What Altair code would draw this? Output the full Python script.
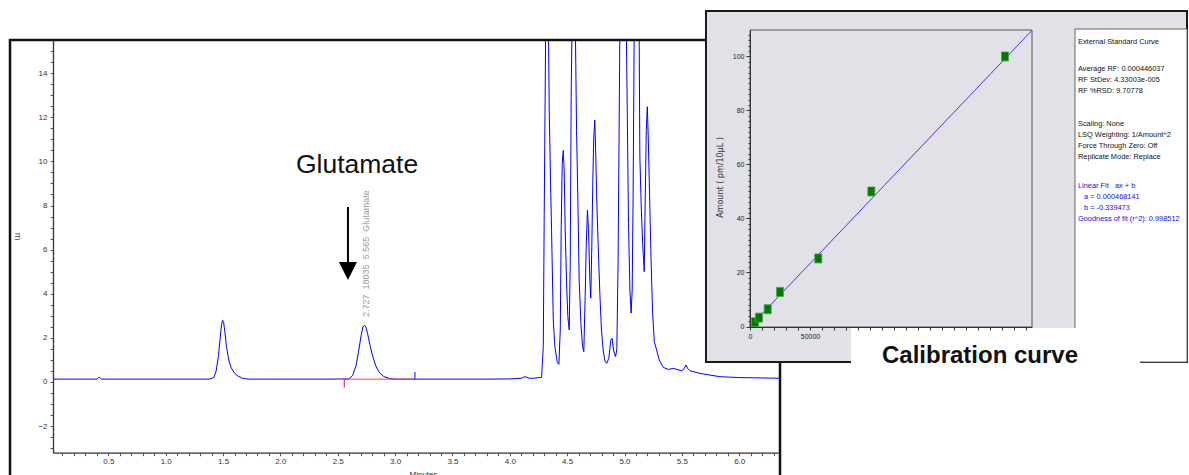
import altair as alt
import pandas as pd

W, H = 1189, 475

# ---------------- Chromatogram ----------------
trace_time = [
    0.02, 0.30, 0.40, 0.415, 0.425, 0.44, 0.60, 1.00,
    1.38, 1.42, 1.44, 1.46, 1.475, 1.487, 1.496, 1.505, 1.515, 1.53, 1.55, 1.57, 1.60, 1.63, 1.67, 1.72,
    2.00, 2.40,
    2.60, 2.63, 2.66, 2.685, 2.705, 2.72, 2.732, 2.745, 2.76, 2.78, 2.80, 2.83, 2.86, 2.90, 2.95, 3.00,
    3.40, 3.80, 4.00, 4.10, 4.133, 4.17, 4.205, 4.277,
    4.292, 4.30, 4.312, 4.325, 4.338, 4.344, 4.355, 4.364, 4.379, 4.393, 4.413, 4.428,
    4.44, 4.448, 4.457, 4.466, 4.474, 4.483, 4.495, 4.506, 4.518,
    4.527, 4.535, 4.541, 4.557, 4.573, 4.582, 4.593, 4.605, 4.62, 4.634, 4.645,
    4.657, 4.666, 4.677, 4.686, 4.698, 4.706,
    4.715, 4.724, 4.732, 4.741, 4.75, 4.758, 4.77, 4.785, 4.799, 4.814, 4.831, 4.846,
    4.863, 4.881, 4.892, 4.904, 4.921,
    4.933, 4.944, 4.953, 4.959, 4.988, 5.017, 5.026, 5.035, 5.047, 5.058,
    5.067, 5.075, 5.084, 5.106, 5.128, 5.134, 5.146, 5.158, 5.172,
    5.181, 5.19, 5.199, 5.207, 5.219, 5.231, 5.245, 5.26, 5.28, 5.303, 5.338, 5.382, 5.425,
    5.498, 5.52, 5.536, 5.55, 5.571, 5.658, 5.832, 6.00, 6.35,
]
trace_signal = [
    0.13, 0.13, 0.13, 0.20, 0.20, 0.13, 0.13, 0.13,
    0.13, 0.20, 0.50, 1.20, 2.00, 2.60, 2.80, 2.70, 2.30, 1.60, 1.00, 0.65, 0.40, 0.27, 0.17, 0.13,
    0.13, 0.13,
    0.14, 0.30, 0.75, 1.50, 2.15, 2.50, 2.58, 2.50, 2.20, 1.70, 1.25, 0.75, 0.45, 0.25, 0.16, 0.13,
    0.13, 0.13, 0.14, 0.17, 0.24, 0.17, 0.17, 0.21,
    1.60, 7.60, 15.5, 20.0, 15.5, 12.2, 9.15, 6.90, 2.81, 1.60, 0.92, 0.80,
    2.36, 6.90, 9.90, 10.5, 9.60, 6.90, 4.50, 2.96, 2.36,
    5.40, 12.9, 15.5, 20.0, 15.5, 11.4, 8.40, 4.60, 2.66, 1.60, 1.37,
    3.87, 6.13, 7.79, 6.90, 4.60, 3.80,
    6.13, 9.15, 11.1, 11.87, 10.2, 8.25, 6.29, 4.02, 2.36, 1.45, 0.92, 0.85,
    1.07, 1.90, 1.98, 1.45, 1.15,
    1.45, 5.40, 11.4, 15.5, 20.0, 15.5, 11.4, 7.19, 4.17, 3.12,
    4.17, 8.40, 15.5, 20.0, 15.5, 10.2, 7.94, 6.29, 5.00,
    8.40, 11.4, 12.48, 11.1, 8.40, 5.68, 3.12, 1.83, 1.45, 1.00, 0.66, 0.57, 0.62,
    0.51, 0.60, 0.77, 0.62, 0.51, 0.39, 0.24, 0.20, 0.17,
]
assert len(trace_time) == len(trace_signal)

# integration events
integ_time = [2.557, 3.173]
integ_level = [0.13, 0.13]
start_tick = [2.557, 0.13, -0.25]
end_tick = [3.173, 0.13, 0.45]

peak_rt = 2.745
peak_label_y = 2.95
peak_label = "2.727\u00a0\u00a018035\u00a0\u00a05.565\u00a0\u00a0Glutamate"

glut_text = ["Glutamate"]
glut_pos = [2.668, 9.47]
arrow_x = 2.589
arrow_y = [7.93, 5.35]
arrow_head_y = 5.03

main_x_ticks = [round(0.1 * i, 1) for i in range(1, 64)]
main_y_ticks = [round(-3 + 0.5 * i, 1) for i in range(0, 38)]

# ---------------- Calibration curve ----------------
cal_area = [4170, 7500, 14750, 25000, 56900, 101100, 212500]
cal_amount = [1.6, 3.3, 6.4, 12.8, 25.2, 50.0, 100.0]
fit_area = [0, 234500]
fit_amount = [-0.34, 109.44]
cal_x_ticks = list(range(0, 240000, 10000))
cal_y_ticks = list(range(0, 110, 2))

info_p1 = ["External Standard Curve"]
info_p2 = ["Average RF: 0.000446037", "RF StDev: 4.33003e-005", "RF %RSD: 9.70778"]
info_p3 = ["Scaling: None", "LSQ Weighting: 1/Amount^2", "Force Through Zero: Off",
           "Replicate Mode: Replace"]
info_p4a = ["Linear Fit\u00a0\u00a0\u00a0ax + b"]
info_p4b = ["a = 0.000468141", "b = -0.339473"]
info_p4c = ["Goodness of fit (r^2): 0.998512"]

SANS = "Liberation Sans, Arial, sans-serif"
PANEL = "#e1e1e7"

# ---------------- scales ----------------
def MX():
    return alt.Scale(domain=[0.0174, 6.347], range=[53, 779], nice=False, zero=False, clamp=True)

def MY():
    return alt.Scale(domain=[-3.205, 15.503], range=[452.7, 40], nice=False, zero=False, clamp=True)

def CX():
    return alt.Scale(domain=[0, 235000], range=[750, 1032], nice=False, zero=False, clamp=True)

def CY():
    return alt.Scale(domain=[0, 109.8], range=[326.5, 30], nice=False, zero=False, clamp=True)

one = pd.DataFrame({"k": [0]})


def box(x1, x2, y1, y2, fill, stroke=None, sw=0):
    kw = dict(fill=fill)
    if stroke is not None:
        kw.update(stroke=stroke, strokeWidth=sw)
    return alt.Chart(one).mark_rect(**kw).encode(
        x=alt.value(x1), x2=alt.value(x2), y=alt.value(y1), y2=alt.value(y2))


def frame(x1, x2, y1, y2, stroke, sw):
    return alt.Chart(one).mark_rect(fill="transparent", stroke=stroke, strokeWidth=sw).encode(
        x=alt.value(x1), x2=alt.value(x2), y=alt.value(y1), y2=alt.value(y2))


# ---------------- main chromatogram ----------------
trace_df = pd.DataFrame({"t": trace_time, "s": trace_signal})

main_x_axis = alt.Axis(
    orient="bottom", offset=452.7 - H, values=main_x_ticks,
    labelExpr="(round(datum.value*10) % 5 === 0) ? format(datum.value, '.1f') : ''",
    tickSize=3, tickColor="#555", domainColor="#333", domainWidth=1.3,
    labelFont=SANS, labelFontSize=8, labelColor="#333", labelPadding=2,
    labelFlush=False, labelOverlap=False, grid=False,
    title="Minutes", titleFont=SANS, titleFontSize=8, titleFontWeight="normal",
    titleColor="#333", titleX=423, titleY=18, titleBaseline="top", titleAlign="center",
    zindex=0)
main_y_axis = alt.Axis(
    orient="left", offset=-53, values=main_y_ticks,
    labelExpr="(datum.value % 2 === 0) ? format(datum.value, 'd') : ''",
    tickSize=3, tickColor="#555", domainColor="#333", domainWidth=1.3,
    labelFont=SANS, labelFontSize=8, labelColor="#333", labelPadding=3,
    labelFlush=False, labelOverlap=False, grid=False,
    title="m", titleFont=SANS, titleFontSize=9, titleFontWeight="normal",
    titleColor="#444", titleX=-36, titleY=236, titleAngle=90, titleAlign="center",
    titleBaseline="middle", zindex=0)

trace = alt.Chart(trace_df).mark_line(color="#0000ff", strokeWidth=1).encode(
    x=alt.X("t:Q", scale=MX(), axis=main_x_axis),
    y=alt.Y("s:Q", scale=MY(), axis=main_y_axis),
)

integ_df = pd.DataFrame({"t": integ_time, "s": integ_level})
integ = alt.Chart(integ_df).mark_line(color="#ff4040", strokeWidth=1).encode(
    x=alt.X("t:Q", scale=MX(), axis=None), y=alt.Y("s:Q", scale=MY(), axis=None))

tick_s = alt.Chart(pd.DataFrame({"t": [start_tick[0]], "a": [start_tick[1]], "b": [start_tick[2]]})).mark_rule(
    color="#ff3030", strokeWidth=1.2).encode(
    x=alt.X("t:Q", scale=MX(), axis=None), y=alt.Y("a:Q", scale=MY(), axis=None), y2="b:Q")
tick_e = alt.Chart(pd.DataFrame({"t": [end_tick[0]], "a": [end_tick[1]], "b": [end_tick[2]]})).mark_rule(
    color="#3030ff", strokeWidth=1.2).encode(
    x=alt.X("t:Q", scale=MX(), axis=None), y=alt.Y("a:Q", scale=MY(), axis=None), y2="b:Q")

main_frame = frame(10, 780, 40, 495, "#111", 2.5)

glut = alt.Chart(pd.DataFrame({"t": [glut_pos[0]], "s": [glut_pos[1]], "txt": glut_text})).mark_text(
    font=SANS, fontSize=26.5, color="#111", align="center", baseline="alphabetic").encode(
    x=alt.X("t:Q", scale=MX(), axis=None), y=alt.Y("s:Q", scale=MY(), axis=None), text="txt:N")

arrow = alt.Chart(pd.DataFrame({"t": [arrow_x], "a": [arrow_y[0]], "b": [arrow_y[1]]})).mark_rule(
    color="#000", strokeWidth=2).encode(
    x=alt.X("t:Q", scale=MX(), axis=None), y=alt.Y("a:Q", scale=MY(), axis=None), y2="b:Q")
arrow_head = alt.Chart(pd.DataFrame({"t": [arrow_x], "s": [arrow_head_y]})).mark_point(
    shape="M-1,-1L1,-1L0,1Z", size=324, filled=True, color="#000", opacity=1).encode(
    x=alt.X("t:Q", scale=MX(), axis=None), y=alt.Y("s:Q", scale=MY(), axis=None))

plabel = alt.Chart(pd.DataFrame({"t": [peak_rt], "s": [peak_label_y], "txt": [peak_label]})).mark_text(
    font=SANS, fontSize=9, color="#9a9a9a", angle=270, align="left", baseline="middle").encode(
    x=alt.X("t:Q", scale=MX(), axis=None), y=alt.Y("s:Q", scale=MY(), axis=None), text="txt:N")

# ---------------- calibration inset ----------------
panel = box(706, 1187, 11, 362, PANEL, "#1a1a1a", 2)
inner = box(750, 1032, 30, 327, PANEL, "#555", 1)

cal_x_axis = alt.Axis(
    orient="bottom", offset=327 - H, values=cal_x_ticks, format="d",
    labelExpr="(datum.value % 50000 === 0 && datum.value <= 50000) ? datum.label : ''",
    tickSize=3, tickColor="#333", domainColor="#333", domainWidth=1,
    labelFont=SANS, labelFontSize=7, labelColor="#222", labelPadding=2,
    labelFlush=False, labelOverlap=False, grid=False, title=None, zindex=1)
cal_y_axis = alt.Axis(
    orient="left", offset=-750, values=cal_y_ticks,
    labelExpr="(datum.value % 20 === 0) ? datum.label : ''",
    tickSize={"condition": {"test": "datum.value % 20 === 0", "value": 4}, "value": 2},
    tickColor="#333", domainColor="#333", domainWidth=1,
    labelFont=SANS, labelFontSize=7, labelColor="#222", labelPadding=2,
    labelFlush=False, labelOverlap=False, grid=False,
    title="Amount ( pm/10\u00b5L )", titleFont="DejaVu Sans", titleFontSize=8,
    titleFontWeight="normal", titleColor="#333", titleX=-30, titleY=177, titleAngle=270,
    titleAlign="center", titleBaseline="middle", zindex=1)

fit = alt.Chart(pd.DataFrame({"a": fit_area, "m": fit_amount})).mark_line(
    color="#3a3aff", strokeWidth=1).encode(
    x=alt.X("a:Q", scale=CX(), axis=None), y=alt.Y("m:Q", scale=CY(), axis=None))

pts = alt.Chart(pd.DataFrame({"a": cal_area, "m": cal_amount})).mark_point(
    shape="M-0.78,-1L0.78,-1L0.78,1L-0.78,1Z", size=81, filled=True,
    fill="#007a00", stroke="#45a845", strokeWidth=0.8, opacity=1).encode(
    x=alt.X("a:Q", scale=CX(), axis=cal_x_axis), y=alt.Y("m:Q", scale=CY(), axis=cal_y_axis))

textbox = box(1075, 1187, 29, 362, "#ffffff", "#666", 1)


def para(lines, x, y, color):
    return alt.Chart(one).mark_text(
        text=lines, font=SANS, fontSize=7.4, color=color, align="left", baseline="top",
        lineHeight=11).encode(x=alt.value(x), y=alt.value(y))


p1 = para(info_p1, 1078, 38, "#111")
p2 = para(info_p2, 1078, 65, "#111")
p3 = para(info_p3, 1078, 120, "#111")
p4a = para(info_p4a, 1078, 182, "#1010e0")
p4b = para(info_p4b, 1084, 193, "#1010e0")
p4c = para(info_p4c, 1078, 215, "#1010e0")

labelbox = box(851, 1140, 328, 372, "#ffffff")
cal_title = alt.Chart(one).mark_text(
    text="Calibration curve", font=SANS, fontSize=24, fontWeight="bold", color="#111",
    align="center", baseline="alphabetic").encode(x=alt.value(980), y=alt.value(363))

chart = alt.layer(
    trace, integ, tick_s, tick_e, main_frame, glut, arrow, arrow_head, plabel,
    panel, inner, fit, pts, textbox, p1, p2, p3, p4a, p4b, p4c, labelbox, cal_title,
).resolve_scale(x="independent", y="independent").properties(
    width=W, height=H, padding=0, autosize=alt.AutoSizeParams(type="none"), background="white"
).configure_view(strokeWidth=0)

chart.save("out.html", embed_options={"renderer": "svg", "actions": False})
